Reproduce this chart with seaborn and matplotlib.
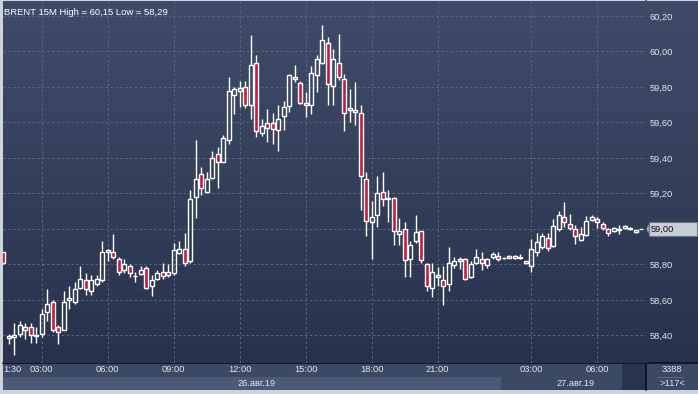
import numpy as np
import matplotlib
matplotlib.use("Agg")
import matplotlib.pyplot as plt
import seaborn as sns
from matplotlib.colors import LinearSegmentedColormap
from matplotlib.patches import Rectangle, Polygon
from matplotlib.lines import Line2D

# BRENT 15M candles (first bar = previous session)
first_index = -1
opens = [58.87, 58.385, 58.39, 58.41, 58.45, 58.45, 58.395, 58.41, 58.53, 58.59,
         58.45, 58.43, 58.60, 58.59, 58.67, 58.71, 58.65, 58.69, 58.71, 58.87,
         58.87, 58.83, 58.77, 58.79, 58.735, 58.745, 58.78, 58.68, 58.72, 58.76,
         58.74, 58.75, 58.865, 58.89, 58.82, 59.18, 59.31, 59.21, 59.29, 59.425,
         59.38, 59.50, 59.755, 59.775, 59.80, 59.70, 59.935, 59.54, 59.595, 59.595,
         59.555, 59.635, 59.695, 59.855, 59.825, 59.70, 59.70, 59.87, 59.935, 60.05,
         59.805, 59.935, 59.845, 59.672, 59.672, 59.653, 59.28, 59.04, 59.077, 59.21,
         59.17, 59.177, 58.97, 59.00, 58.83, 58.93, 58.99, 58.80, 58.668, 58.742,
         58.71, 58.69, 58.795, 58.83, 58.83, 58.73, 58.81, 58.83, 58.795, 58.84,
         58.85, 58.835, 58.85, 58.835, 58.835, 58.82, 58.79, 58.868, 58.90, 58.95,
         58.906, 59.00, 59.066, 59.028, 59.00, 58.938, 58.966, 59.053, 59.057, 59.026,
         59.00, 58.991, 59.002, 59.006, 59.00, 58.981, 59.00]
highs = [58.87, 58.41, 58.47, 58.48, 58.47, 58.47, 58.45, 58.55, 58.66, 58.60,
         58.46, 58.65, 58.68, 58.70, 58.79, 58.75, 58.74, 58.74, 58.93, 58.89,
         58.97, 58.84, 58.83, 58.80, 58.76, 58.79, 58.79, 58.74, 58.77, 58.81,
         58.80, 58.92, 58.93, 58.98, 59.22, 59.50, 59.35, 59.32, 59.44, 59.46,
         59.53, 59.855, 59.80, 59.835, 59.835, 60.095, 59.98, 59.62, 59.675, 59.655,
         59.70, 59.72, 59.875, 59.925, 59.835, 59.77, 59.92, 59.98, 60.15, 60.08,
         60.015, 60.10, 59.875, 59.79, 59.83, 59.70, 59.32, 59.16, 59.30, 59.32,
         59.22, 59.18, 59.06, 59.04, 58.93, 59.08, 58.99, 58.81, 58.81, 58.785,
         58.79, 58.90, 58.84, 58.84, 58.835, 58.82, 58.89, 58.87, 58.835, 58.87,
         58.868, 58.84, 58.855, 58.852, 58.858, 58.82, 58.943, 58.98, 58.977, 58.977,
         59.057, 59.10, 59.15, 59.085, 59.02, 59.013, 59.075, 59.08, 59.066, 59.038,
         59.006, 59.01, 59.023, 59.02, 59.01, 58.995, 59.00]
lows = [58.80, 58.35, 58.29, 58.39, 58.38, 58.36, 58.36, 58.39, 58.48, 58.42,
        58.35, 58.43, 58.55, 58.58, 58.66, 58.63, 58.63, 58.68, 58.70, 58.82,
        58.83, 58.74, 58.75, 58.73, 58.70, 58.74, 58.66, 58.62, 58.71, 58.72,
        58.73, 58.74, 58.86, 58.79, 58.81, 59.06, 59.19, 59.20, 59.28, 59.23,
        59.38, 59.48, 59.65, 59.685, 59.68, 59.62, 59.52, 59.525, 59.49, 59.48,
        59.44, 59.56, 59.66, 59.83, 59.705, 59.63, 59.65, 59.77, 59.93, 59.70,
        59.70, 59.84, 59.55, 59.605, 59.587, 59.105, 58.96, 58.83, 59.01, 59.13,
        59.04, 58.91, 58.91, 58.73, 58.73, 58.92, 58.81, 58.65, 58.615, 58.68,
        58.57, 58.65, 58.78, 58.775, 58.715, 58.725, 58.80, 58.77, 58.78, 58.83,
        58.82, 58.83, 58.835, 58.832, 58.832, 58.80, 58.76, 58.85, 58.887, 58.877,
        58.90, 58.99, 59.01, 58.996, 58.915, 58.93, 58.96, 59.045, 59.004, 58.995,
        58.958, 58.985, 58.972, 59.00, 58.995, 58.98, 59.00]
closes = [58.81, 58.395, 58.40, 58.46, 58.43, 58.40, 58.40, 58.52, 58.58, 58.43,
          58.42, 58.59, 58.61, 58.66, 58.72, 58.66, 58.71, 58.72, 58.87, 58.88,
          58.84, 58.76, 58.80, 58.75, 58.735, 58.77, 58.67, 58.71, 58.75, 58.735,
          58.755, 58.88, 58.885, 58.81, 59.17, 59.28, 59.23, 59.28, 59.40, 59.375,
          59.515, 59.78, 59.79, 59.795, 59.70, 59.925, 59.55, 59.58, 59.57, 59.565,
          59.62, 59.685, 59.865, 59.845, 59.71, 59.71, 59.88, 59.96, 60.065, 59.815,
          59.96, 59.855, 59.655, 59.681, 59.658, 59.30, 59.045, 59.07, 59.20, 59.17,
          59.175, 58.99, 58.99, 58.823, 58.91, 58.983, 58.823, 58.68, 58.757, 58.728,
          58.677, 58.81, 58.82, 58.82, 58.72, 58.80, 58.84, 58.81, 58.83, 58.858,
          58.83, 58.838, 58.838, 58.85, 58.843, 58.81, 58.887, 58.928, 58.958, 58.894,
          59.015, 59.08, 59.038, 59.004, 58.962, 58.972, 59.047, 59.068, 59.038, 59.004,
          58.979, 59.006, 58.992, 59.015, 59.006, 58.992, 59.00]

first_label = "1:30"   # shown cut at the left edge in the original
time_labels = ["03:00", "06:00", "09:00", "12:00", "15:00", "18:00", "21:00", "03:00", "06:00"]
time_pos = [6, 18, 30, 42, 54, 66, 78, 95, 107]
date_labels = ["26.авг.19", "27.авг.19"]
date_pos = [45, 103]
day_split = 89.5
price_levels = [58.40, 58.60, 58.80, 59.00, 59.20, 59.40, 59.60, 59.80, 60.00, 60.20]
title = "BRENT 15M High = 60,15 Low = 58,29"
volume_text = "3388"
bars_text = ">117<"

sns.set_theme(style="dark")
plt.rcParams["font.family"] = ["Liberation Sans", "DejaVu Sans"]

W, H = 698, 394
fig = plt.figure(figsize=(W / 100, H / 100), dpi=100, facecolor="#cfd3db")


def rect(x0, y0, x1, y1):
    # pixel box -> figure fraction
    return [x0 / W, 1 - y1 / H, (x1 - x0) / W, (y1 - y0) / H]


ax = fig.add_axes(rect(2.5, 1, 646, 363))
ax_r = fig.add_axes(rect(646, 1, 698, 363))
ax_b = fig.add_axes(rect(2.5, 363, 646, 390), sharex=ax)
ax_rb = fig.add_axes(rect(646, 363, 698, 390))
ax.set_zorder(3)

xlim = (-1.127, 115.87)
ylim = (58.245, 60.2845)
ax.set_xlim(*xlim)
ax.set_ylim(*ylim)
ax_r.set_xlim(0, 1)
ax_r.set_ylim(*ylim)

# background gradient
bg = LinearSegmentedColormap.from_list("bg", ["#3f4c69", "#28324d"])
grad = np.linspace(0, 1, 256).reshape(-1, 1)
ax.imshow(grad, cmap=bg, aspect="auto", extent=[*xlim, *ylim], origin="upper", zorder=0)
ax_r.imshow(grad, cmap=bg, aspect="auto", extent=[0, 1, *ylim], origin="upper", zorder=0)

# candles
idx = np.arange(len(opens)) + first_index
o, h, l, c = map(np.array, (opens, highs, lows, closes))
top = np.maximum(o, c)
bot = np.minimum(o, c)
red = "#c8173a"
ax.vlines(idx, top, h, color="white", lw=1, zorder=3)
ax.vlines(idx, l, bot, color="white", lw=1, zorder=3)
ax.bar(idx, top - bot, bottom=bot, width=0.68,
       color=np.where(c >= o, "none", red), edgecolor="white", linewidth=1, zorder=4)

# grid + price axis
last = closes[-1]
ax.set_yticks(price_levels)
ax.set_yticklabels(["" if abs(v - last) < 1e-9 else f"{v:.2f}".replace(".", ",") for v in price_levels])
ax.yaxis.tick_right()
ax.tick_params(axis="y", length=0, pad=2.6, labelsize=6.7, labelcolor="#e2e6ee")
ax.set_xticks(time_pos)
ax.tick_params(axis="x", length=0, labelbottom=False)
ax.grid(True, color="#5a6784", lw=0.7, ls=(0, (2.5, 2.5)))
for a in (ax, ax_r, ax_b, ax_rb):
    for s in a.spines.values():
        s.set_visible(False)
ax_r.set_xticks([])
ax_r.set_yticks([])

# last price marker
box_h = 0.08
ax_r.add_patch(Rectangle((0.05, last - box_h / 2), 0.93, box_h, fc="#c9cdd5", ec="#6d768a", lw=0.8, zorder=3))
ax_r.add_patch(Polygon([[0.0, last], [0.06, last + box_h * 0.3], [0.06, last - box_h * 0.3]],
                       closed=True, fc="#c9cdd5", ec="#6d768a", lw=0.8, zorder=3))
ax_r.text(0.09, last, f"{last:.2f}".replace(".", ","), fontsize=6.7, color="#111111",
          ha="left", va="center", zorder=4)

# time / date strip
ax_b.set_ylim(0, 1)
ax_b.set_facecolor("#3c4965")
ax_b.axvspan(xlim[0], day_split, ymin=0, ymax=0.48, color="#4b5977", lw=0)
ax_b.axvspan(111.5, xlim[1], color="#29334d", lw=0)
ax_b.tick_params(length=0, labelbottom=False, labelleft=False)
ax_b.grid(False)
ax_b.text(xlim[0] + 0.05, 0.76, first_label, ha="left", va="center", fontsize=6.7, color="#e2e6ee")
for p, t in zip(time_pos, time_labels):
    ax_b.text(p, 0.76, t, ha="center", va="center", fontsize=6.7, color="#e2e6ee")
for p, t in zip(date_pos, date_labels):
    ax_b.text(p, 0.25, t, ha="center", va="center", fontsize=6.7, color="#e2e6ee")

ax_rb.set_facecolor("#3c4965")
ax_rb.set_xticks([])
ax_rb.set_yticks([])
ax_rb.set_xlim(0, 1)
ax_rb.set_ylim(0, 1)
ax_rb.text(0.5, 0.76, volume_text, ha="center", va="center", fontsize=6.7, color="#e2e6ee")
ax_rb.text(0.5, 0.25, bars_text, ha="center", va="center", fontsize=6.7, color="#e2e6ee")
ax_rb.plot([0.22, 0.72], [0.5, 0.5], color="#5d6a86", lw=0.8)

# separators
fig.add_artist(Line2D([2.5 / W, 1], [1 - 363 / H] * 2, color="#0e131c", lw=1.3))
fig.add_artist(Line2D([646 / W] * 2, [1 - 390 / H, 1 - 1 / H], color="#0e131c", lw=1.3))

fig.text(4 / W, 1 - 12.5 / H, title, ha="left", va="center", fontsize=6.8, color="white")

fig.savefig("out.png", dpi=100, facecolor=fig.get_facecolor())
